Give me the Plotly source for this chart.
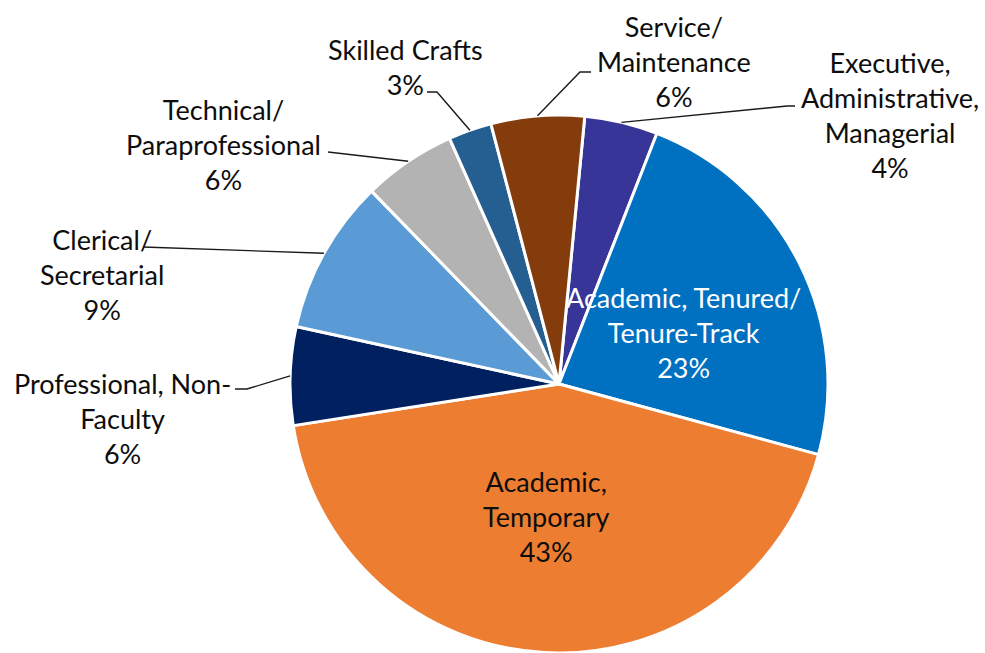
import math
import plotly.graph_objects as go

# Staff by occupational category, share in per cent, clockwise from 12 o'clock
categories = [
    "Executive, Administrative, Managerial",
    "Academic, Tenured/Tenure-Track",
    "Academic, Temporary",
    "Professional, Non-Faculty",
    "Clerical/Secretarial",
    "Technical/Paraprofessional",
    "Skilled Crafts",
    "Service/Maintenance",
]
shares = [4.4, 23.3, 43.3, 5.9, 9.3, 5.6, 2.6, 5.6]
label_lines = [
    ["Executive,", "Administrative,", "Managerial"],
    ["Academic, Tenured/", "Tenure-Track"],
    ["Academic,", "Temporary"],
    ["Professional, Non-", "Faculty"],
    ["Clerical/", "Secretarial"],
    ["Technical/", "Paraprofessional"],
    ["Skilled Crafts"],
    ["Service/", "Maintenance"],
]
colors = ["#373597", "#0070C0", "#ED7D31", "#002060",
          "#5B9BD5", "#B3B3B3", "#255E91", "#843C0C"]

# page geometry (pixels)
W, H = 985, 653
CX, CY, R = 559, 384, 269
ROTATION = 5.5

# label centres (pixels) and leader line elbows (None = label sits inside the slice)
label_xy = [(890, 115), (683, 332), (546, 516), (122, 418),
            (102, 274), (223, 144), (405, 67), (674, 61)]
leader_pts = [
    [(795, 106), (787, 106)],
    None,
    None,
    [(235, 389), (247, 389)],
    [(143, 247)],
    [(328, 152)],
    [(427, 92), (437, 92)],
    [(591, 72), (580, 72)],
]


def px(x, y):
    # pixel position -> paper coordinates
    return x / W, 1 - y / H


def edge_point(i):
    """Point on the rim at the middle of slice i."""
    total = sum(shares)
    start = sum(shares[:i]) / total * 360 + ROTATION
    mid = math.radians(start + shares[i] / total * 180)
    return CX + R * math.sin(mid), CY - R * math.cos(mid)


fig = go.Figure()
fig.add_trace(go.Pie(
    labels=categories,
    values=shares,
    sort=False,
    direction="clockwise",
    rotation=ROTATION,
    textinfo="none",
    hoverinfo="label+percent",
    marker=dict(colors=colors, line=dict(color="white", width=3)),
    domain=dict(x=[(CX - R) / W, (CX + R) / W], y=[0, 2 * R / H]),
    showlegend=False,
))

total = sum(shares)
for i, lines in enumerate(label_lines):
    pct = int(shares[i] / total * 100 + 0.5)
    text = "<br>".join(lines + [f"{pct}%"])
    x, y = px(*label_xy[i])
    fig.add_annotation(
        x=x, y=y, xref="paper", yref="paper", text=text, showarrow=False,
        xanchor="center", yanchor="middle", align="center",
        font=dict(size=27, color="white" if i == 1 else "#0d0d0d"),
    )
    if leader_pts[i] is not None:
        pts = [px(*p) for p in leader_pts[i] + [edge_point(i)]]
        path = "M " + " L ".join(f"{a:.5f},{b:.5f}" for a, b in pts)
        fig.add_shape(type="path", path=path, xref="paper", yref="paper",
                      line=dict(color="#1a1a1a", width=1.4))

fig.update_layout(
    width=W, height=H,
    margin=dict(l=0, r=0, t=0, b=0),
    paper_bgcolor="white",
    plot_bgcolor="white",
    font=dict(family="Lato, 'Open Sans', sans-serif"),
)

# drop the browser's default body margin so the figure sits at the page corner
fig.write_html("out.html", config={"displayModeBar": False},
               post_script="document.body.style.margin='0';")
